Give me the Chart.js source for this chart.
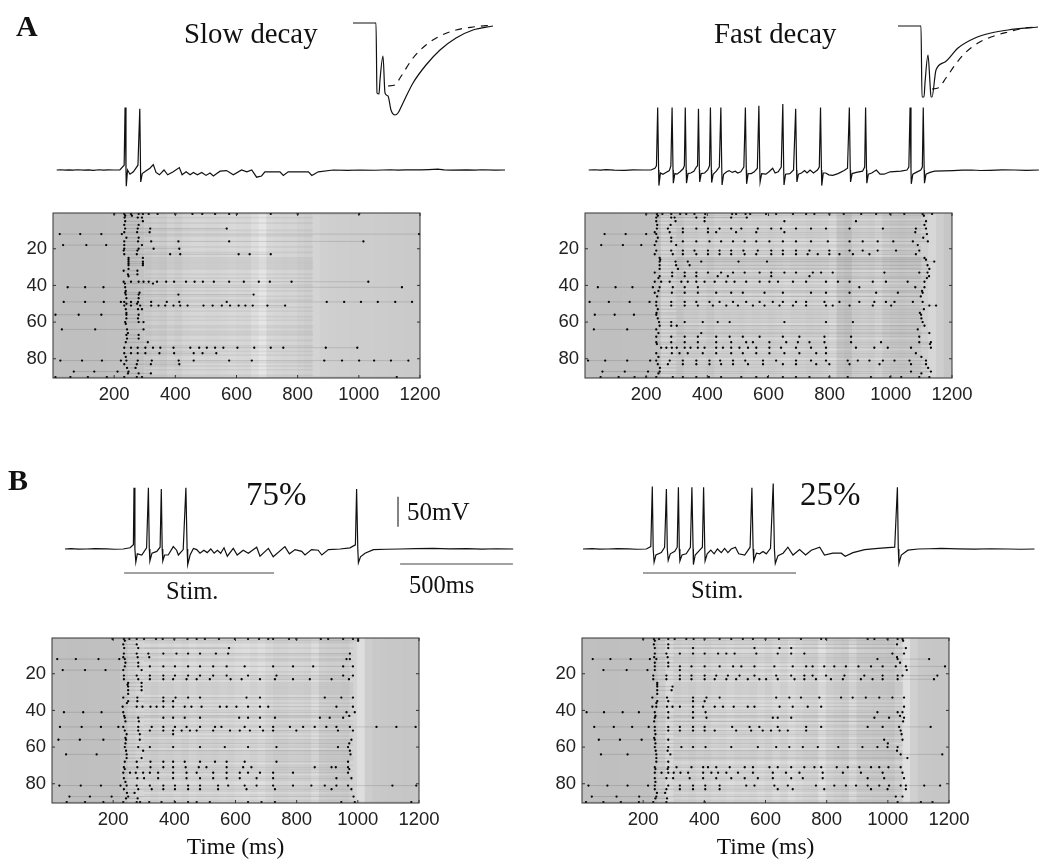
<!DOCTYPE html>
<html>
<head>
<meta charset="utf-8">
<title>Slow and fast decay rasters</title>
<script src="https://cdn.jsdelivr.net/npm/chart.js@4"></script>
<style>
  html, body { margin: 0; padding: 0; background: #fff; }
  #page { position: relative; width: 1050px; height: 867px; overflow: hidden; filter: blur(0.4px); }
  canvas { position: absolute; }
  .txt { position: absolute; font-family: "Liberation Serif", serif; color: #111; white-space: nowrap; line-height: 1; }
</style>
</head>
<body>
<div id="page"></div>
<script>
// Tick labels shared by all raster panels
const timeTicks = [200, 400, 600, 800, 1000, 1200];
const cellTicks = [20, 40, 60, 80];

// Raster spikes, each line is [cell, spike times in ms]
const spikesSlow = [
  [1,200,233,255,280,294,313,342,400,456,488,530,576,601,712,800,1001],[2,236,258],[3,234,277,291],[5,236,294],[7,233,280],
  [9,236,277,318,568],[11,233,275,316],[12,22,89,158,225,1197],[14,240,280],[16,233,278,321,410,576,1015],
  [18,33,109,174,233,291],[20,233,280,329,413],[21,231,276],[23,233,274,383,416,607,643,712],[25,247,294],[26,247],[27,247,294],
  [28,247,294],[29,247,294],[31,247],[32,231,276],[34,245,276],[35,247],
  [38,231,255,280,296,313,340,370,396,435,463,490,526,576,624,673,709,780,1031],[39,235,327],[41,48,105,165,236,1141],[43,238],
  [44,236,283],[45,238,280,410,656],[47,240,280],[49,35,105,166,222,233,255,278,321,372,413,568,895,952,1007,1062,1119,1174],
  [50,240,275],[51,233,255,285,321,345,367,394,416,440,492,522,552,579,607,629,653,701,759],[53,238,278,291],[55,240],
  [56,8,84,158,240,280],[58,240,278],[60,236,280,296],[61,238],[64,29,138,242,296],[66,245],[67,240,280],[69,242,280],[71,238,310],
  [74,233,255,277,302,327,351,394,449,478,503,530,557,603,658,712,753,892,995],[77,233,255,277,302,348,396,460,489,534],
  [79,238],[81,24,95,160,222,240,277,323,411,460,576,650,887,945,1001,1050,1105,1162],[83,233,274,320,413],[85,242,270],
  [87,68,135,211,247],[88,245,280,320],[90,8,57,114,176,233,274,291,1124]
];
const spikesFast = [
  [1,200,235,253,282,311,331,358,393,481,494,525,540,592,625,680,723,750,799,846,903,952,998,1044,1104,1135],[2,238,1108],
  [3,233,282,293,364,391,478,529],[5,233,296,391,652,886,1115],[7,236,280,1110],
  [9,235,271,320,364,402,440,478,511,565,609,641,690,739,788,865,974,1082,1115],[11,228,277,320,402,429,494,560,652,1080],
  [12,64,133,200,233,1118],[14,238,282,1106],[16,233,282,320,364,407,445,484,522,560,603,647,690,739,794,865,908,957,1008,1072,1121],
  [18,53,124,184,228,298,1088],[21,233,282,320,358,402,440,478,518,565,609,647,690,734,799,865,908,957,1017,1093],
  [23,228,287,320,364,402,440,478,522,560,609,647,690,728,761,799,832,876,930,1082],[25,244,1110],[26,246,1115],
  [27,244,296,336,380,502,595,1142],[29,244,298,342,1120],[31,244,304,1126],
  [33,228,285,326,364,402,445,484,522,571,609,652,690,745,772,810,979,1093,1120],[35,244,285,326,364,434,467,609,734,1125],
  [36,240,1118],[38,228,249,277,315,336,364,391,424,462,489,527,571,603,631,680,723,788,827,865,941,984,1055,1110],
  [41,42,100,155,222,244,287,326,369,897,1080,1110],[43,240,1102],
  [44,228,284,326,369,429,478,516,587,647,739,788,865,952,1023,1104],[46,236,1098],
  [49,15,78,146,211,233,282,326,364,407,440,484,527,571,614,647,690,723,783,832,897,946,984,1012,1072,1104],
  [51,233,282,326,369,418,462,500,549,587,636,680,723,788,810,865,941,1001,1126,1148],[53,238,1108],[55,234,1095],
  [56,32,97,160,233,1099],[58,238,1100],[60,242,282,326,385,434,473,652,788,876,1104],[62,244,282,300,1110],
  [64,29,138,233,1088],[66,240,380,1126],[68,233,282,326,369,429,473,516,571,647,701,783,870,1093],
  [71,233,282,326,369,429,478,527,549,603,658,696,734,783,870,968,1093,1131],[72,235,1128],
  [74,249,266,284,300,326,345,369,391,429,451,478,505,533,560,603,641,690,739,788,886,946,990,1066,1131],
  [77,233,284,309,336,385,429,478,516,560,603,652,701,756,788,1082],[79,240,1100],
  [81,10,66,138,213,233,277,320,364,407,442,484,524,582,625,690,739,788,859,892,930,974,1012,1061,1115],
  [83,238,271,320,364,407,445,484,533,582,647,690,756,799,865,963,1066,1115],[85,245,1122],[87,57,130,206,244,1066,1131],[88,240,1100],
  [90,51,110,162,200,233,287,320,364,405,445,511,560,598,647,690,734,799,859,935,998,1034,1093,1126]
];
const spikes75 = [
  [1,198,235,253,277,301,340,362,400,443,473,500,546,598,641,677,707,723,775,799,879,903,952,984,1001],[2,238,1001],[4,233,277],
  [6,236,282,579],[9,235,277,315,364,407,445,484,536,576,974],[11,233,280,318],[12,17,78,152,220,238,963,974],[14,240,282],
  [16,238,282,320,364,402,445,484,527,571,630,723,788,854,952,984],[18,35,108,175,233,293],
  [21,235,277,320,364,402,445,484,527,571,641,734,952,984],[23,235,282,320,364,396,440,473,516,584,620,680,729,788,843,914,971],
  [25,249,293],[26,247],[27,249,293],[29,249,293],[31,249],[33,233,279,364,404,445,484,636,680,892,946,984],[35,249,279,364,396],[36,245],
  [38,231,277,296,322,342,364,396,434,456,489,549,571,603,641,680,707,930,984],[41,39,102,162,233,963,990],[43,236,972],
  [44,238,282,364,396,434,484,612,641,680,729,876,908,952],[46,240,284],
  [49,26,97,160,217,233,282,326,364,402,440,484,533,554,630,680,723,778,821,859,897,930,974,1061,1126,1189],
  [51,238,282,320,364,396,424,451,473,527,582,614,647,690,723,799,935,984],[53,244,287,396],[55,240],[56,21,91,168,242,287,979],[58,240,972],
  [60,238,282,320,396,484,565,641,734,935,968],[62,242,298,974],[64,46,146,244,976],[66,244,293],
  [68,238,277,322,364,396,434,484,533,571,630,734,968],[71,235,279,322,364,396,437,480,505,571,625,652,859,914,928,968],
  [72,238,972],[74,233,255,274,298,320,347,396,440,473,527,571,614,641,680,723,788,968],
  [77,235,279,301,347,396,440,484,527,571,614,669,723,930,979],[79,240],
  [81,24,94,160,224,244,277,320,364,402,445,484,543,576,630,669,723,788,848,892,930,968,1113,1191],
  [83,235,282,326,364,402,445,484,543,636,729,914,979],[85,245,270],[87,57,124,195,249,986],[88,242,280],
  [90,48,108,168,233,277,288,318,358,402,445,473,516,641,685,729,946,990,1175]
];
const spikes25 = [
  [1,200,235,252,282,303,341,365,401,450,488,526,559,600,644,716,782,798,934,956,999,1032,1048],[2,238,1050],[4,235,282,1030],
  [6,238,282,363,564,646,684,1059],[9,238,276,320,363,401,445,472,499,570,640,684,727,1015,1053],[11,236,280,1030],
  [12,35,93,159,222,243,966,1032,1135],[14,238,282,1040],
  [16,238,282,320,358,401,450,494,521,564,629,689,733,754,792,825,863,904,945,983,1026,1059,1187],[18,70,146,214,238,320,1062],
  [21,233,276,320,358,401,439,477,515,564,635,684,727,754,798,858,923,983,1032,1048,1162],
  [23,233,276,320,358,401,434,472,504,542,580,602,640,695,727,765,814,853,912,950,983,1032,1151],
  [25,246],[26,246],[27,246,296],[29,246,293],[31,246],[33,230,278,363,407,450,635,678,716,776,847,885,928,972,1015,1053],
  [35,246,282,363,401],[36,243],[38,230,243,278,296,320,363,396,434,461,496,542,564,646,689,738,782,1053],
  [41,15,72,133,186,238,282,363,404,966,1032,1048],[43,240,1040],[44,238,282,363,407,624,640,684,956,1004,1053],[46,236,1050],
  [49,40,104,164,218,238,282,320,363,401,491,548,580,640,733,782,934,983,1037,1140],
  [51,238,282,320,363,401,434,504,553,591,618,646,673,733,1042],[53,240,1045],[55,236],[56,55,124,195,238,282,988,1048],[58,240,1000],
  [60,238,282,325,363,404,488,575,635,678,722,771,838,917,966,999,1032],[62,241,280,1030],[64,62,149,243,289,1042,1178],[66,243,1064],
  [68,243,282],[71,238,282,309,358,396,412,439,483,532,559,613,640,684,727,760,782,833,869,907,945,972,1002,1042],[72,240,280],
  [74,238,260,282,300,322,347,396,423,445,472,510,559,624,667,711,787,853,912,983,1048],
  [77,238,276,298,352,396,439,488,532,575,624,684,722,787,934,988,1053],[79,240],
  [81,21,83,149,216,238,282,320,363,403,450,537,564,629,673,765,825,863,896,934,972,1004,1042,1059,1119,1171],
  [83,238,276,320,363,403,450,640,689,792,945,999,1059],[85,245,272],[87,32,113,187,243,1026,1048],[88,240,278],
  [90,13,70,127,186,233,276,401,1032,1108,1146]
];

// Background brightness of the rasters, one value per 25 ms bin
const shadeSlow = [192,191,191,191,191,191,191,192,192,192,193,195,203,207,204,211,207,213,215,215,213,213,215,217,215,214,222,230,216,214,212,213,209,206,212,208,207,206,206,205,205,205,204,204,203,203,202,202];
const shadeFast = [192,192,191,191,191,192,192,192,192,193,212,210,205,212,211,215,209,216,214,215,213,216,214,216,213,216,219,215,216,213,214,216,222,203,198,212,214,212,218,208,204,202,204,204,208,215,206,198];
const shade75 = [192,192,191,191,191,192,192,192,192,197,207,213,216,212,216,214,218,214,220,216,217,215,218,216,220,222,218,223,216,211,212,215,214,212,221,208,206,206,204,212,222,205,201,200,199,199,198,198];
const shade25 = [192,192,191,191,191,192,192,192,192,195,204,217,212,215,211,216,213,218,216,220,216,217,215,220,215,222,216,224,218,214,213,226,214,210,207,219,207,206,204,204,202,210,224,208,200,199,198,198];

// Rows that stay darker through the active period, and when that period ends in ms
const stripeRows = [3,6,10,13,19,22,25,26,27,28,29,30,31,34,36,40,43,46,48,52,54,57,59,62,63,65,66,67,70,73,76,78,82,84,86,89];
const activeEnd = { slow: 850, fast: 1100, p75: 985, p25: 1050 };

// Membrane potential traces, [time in ms, mV]
const traceSlow = [[12,-65],[25,-64.6],[40,-65.3],[52,-64.7],[66,-65.2],[80,-64.6],[100,-65.1],[115,-64.7],[132,-65.5],[150,-64.6],[165,-65.1],[180,-64.7],[197,-65],[218,-65],[232,-57],[235,39],[238,-65],[239,-92],[243,-65],[251,-72],[262,-68],[277,-57],[283,37],[286,-85],[291,-71],[305,-66],[316,-62],[327,-56],[336,-69],[347,-73],[362,-65],[374,-73],[392,-68],[412,-61],[421,-73],[434,-68],[447,-73],[458,-69],[471,-73],[485,-69],[499,-74],[512,-70],[523,-75],[534,-71],[545,-67],[566,-66],[588,-73],[615,-65],[632,-68],[648,-65],[664,-77],[680,-75],[691,-68],[740,-68],[751,-74],[767,-68],[833,-68],[844,-74],[865,-68],[914,-65],[960,-65.6],[1000,-65],[1050,-65.4],[1100,-64.6],[1125,-65.2],[1150,-64.7],[1200,-64.8],[1225,-64.3],[1255,-63.6],[1275,-64.8],[1300,-65.2],[1350,-64.7],[1375,-65.3],[1400,-64.6],[1440,-65.3],[1474,-65]];
const traceFast = [[12,-65],[30,-64.6],[50,-65.2],[70,-64.5],[95,-65.2],[130,-65.5],[155,-64.7],[190,-65],[215,-65],[228,-62],[233,-58],[237,39],[240,-65],[241,-91],[246,-70],[254,-72],[264,-69],[275,-66],[280,-58],[284,39],[287,-65],[288,-87],[293,-71],[300,-72],[310,-68],[320,-63],[324,-58],[327,39],[330,-65],[331,-87],[336,-71],[345,-70],[355,-67],[363,-60],[367,-58],[370,37],[373,-65],[374,-85],[379,-71],[390,-70],[400,-65],[406,-58],[409,39],[412,-65],[413,-86],[418,-72],[428,-67],[438,-60],[443,39],[446,-65],[447,-90],[452,-72],[462,-68],[470,-66],[480,-69],[490,-67],[498,-70],[508,-68],[518,-60],[523,39],[526,-65],[527,-88],[532,-71],[542,-71],[552,-68],[562,-62],[567,42],[570,-65],[571,-85],[576,-71],[590,-72],[600,-68],[612,-62],[620,-70],[630,-68],[640,-60],[645,45],[648,-65],[649,-90],[654,-72],[668,-71],[680,-65],[687,37],[690,-65],[691,-85],[696,-72],[706,-70],[716,-66],[724,-70],[734,-65],[745,-70],[758,-65],[764,-60],[768,39],[771,-65],[772,-91],[777,-70],[785,-70],[795,-73],[808,-74],[825,-71],[845,-66],[856,-62],[862,39],[865,-65],[866,-85],[871,-71],[885,-69],[905,-67],[912,-60],[915,39],[918,-65],[919,-87],[924,-72],[935,-70],[950,-65],[962,-72],[975,-72],[995,-68],[1030,-67],[1050,-65],[1056,-60],[1060,39],[1063,-65],[1064,-88],[1069,-72],[1080,-69],[1095,-65],[1100,-60],[1103,39],[1106,-65],[1107,-87],[1112,-72],[1125,-69],[1140,-67],[1170,-66.4],[1200,-66],[1230,-65.3],[1260,-65],[1290,-65.8],[1320,-65.5],[1360,-64.7],[1400,-65],[1440,-65.5],[1480,-65]];
const trace75 = [[0,-65],[20,-64.5],[45,-65.3],[72,-65],[100,-64.4],[139,-64.8],[165,-65.4],[194,-65],[217,-63],[228,-58],[230,37],[233,-65],[236,-87],[241,-73],[256,-75],[272,-63],[278,37],[281,-65],[283,-85],[290,-72],[306,-69],[317,-62],[321,35],[324,-65],[326,-85],[332,-75],[344,-75],[361,-61],[372,-67],[378,-75],[394,-66],[403,37],[407,-65],[409,-91],[417,-75],[428,-64],[439,-66],[450,-72],[463,-67],[474,-71],[486,-65],[497,-72],[508,-67],[519,-72],[530,-63],[541,-77],[561,-64],[574,-75],[594,-67],[611,-72],[639,-62],[650,-77],[678,-64],[694,-78],[733,-61],[748,-73],[767,-66],[789,-69],[800,-75],[822,-66],[844,-67],[856,-75],[878,-66],[917,-65],[950,-63],[968,-58],[972,35],[976,-65],[978,-88],[985,-78],[1000,-72],[1028,-66],[1070,-65.4],[1117,-65],[1170,-64.5],[1228,-64],[1280,-64.8],[1339,-64.5],[1390,-65.2],[1440,-64.6],[1494,-65]];
const trace25 = [[0,-65],[30,-64.5],[55,-65.3],[83,-65],[115,-64.5],[150,-64.8],[180,-65.4],[211,-65],[226,-61],[231,39],[234,-65],[237,-87],[243,-75],[261,-71],[272,-62],[278,35],[281,-65],[284,-84],[291,-73],[306,-69],[314,-62],[318,38],[321,-65],[323,-85],[330,-75],[344,-73],[358,-62],[363,38],[367,-65],[368,-91],[374,-75],[389,-67],[398,-62],[402,38],[406,-65],[407,-85],[414,-73],[426,-67],[437,-73],[448,-65],[461,-71],[472,-64],[483,-71],[494,-65],[508,-62],[519,-73],[539,-75],[557,-62],[563,37],[567,-65],[569,-85],[578,-72],[589,-73],[600,-69],[611,-73],[625,-64],[634,44],[638,-65],[641,-89],[650,-76],[667,-72],[683,-62],[700,-75],[722,-66],[742,-75],[761,-67],[789,-62],[805,-75],[833,-72],[861,-72],[874,-77],[900,-71],[939,-66],[983,-64],[1039,-62],[1048,38],[1051,-65],[1053,-89],[1061,-75],[1083,-67],[1117,-65],[1155,-64.6],[1194,-64],[1250,-64.8],[1305,-65.2],[1360,-64.6],[1417,-65],[1460,-65.4],[1505,-65]];

// Stimulus and scale bars, drawn on the trace axes
const stim75 = [[197,-105],[697,-105]];
const stim25 = [[200,-105],[710,-105]];
const barVolt = [[1110,22],[1110,-28]];
const barTime = [[1117,-90],[1493,-90]];

// Inset current shapes, [ms, pA]
const insetSlowSolid = [[0,0],[23,0],[24,-70],[26,-71],[27,-57],[30,-33],[32,-70],[35,-73],[38,-87],[42,-92],[45,-90],[50,-80],[60,-60],[73,-42],[87,-27],[103,-15],[120,-7],[140,-3]];
const insetSlowDash = [[35,-63],[42,-62],[47,-55],[60,-35],[73,-22],[87,-13],[103,-7],[120,-4],[140,-2]];
const insetFastSolid = [[0,0],[23,0],[24,-71],[26,-71],[27,-57],[30,-29],[32,-57],[33,-71],[34,-71],[38,-44],[47,-36],[60,-22],[77,-12],[93,-7],[110,-4],[140,-1]];
const insetFastDash = [[34,-63],[40,-62],[48,-52],[57,-39],[67,-27],[80,-17],[93,-11],[110,-6],[127,-2],[140,-1]];

const page = document.getElementById("page");

function addCanvas(left, top, width, height) {
    const c = document.createElement("canvas");
    c.width = width;
    c.height = height;
    c.style.left = left + "px";
    c.style.top = top + "px";
    c.style.width = width + "px";
    c.style.height = height + "px";
    page.appendChild(c);
    return c;
}

function addText(text, left, top, size, bold) {
    const d = document.createElement("div");
    d.className = "txt";
    d.textContent = text;
    d.style.left = left + "px";
    d.style.top = top + "px";
    d.style.fontSize = size + "px";
    if (bold) d.style.fontWeight = "bold";
    page.appendChild(d);
}

const toXY = pairs => pairs.map(p => ({ x: p[0], y: p[1] }));

// Dark frame and small inward ticks round a raster
const framePlugin = {
    id: "frame",
    afterDraw(chart) {
        const { ctx, chartArea: a, scales } = chart;
        ctx.save();
        ctx.strokeStyle = "#333";
        ctx.lineWidth = 1;
        ctx.strokeRect(a.left, a.top, a.right - a.left, a.bottom - a.top);
        ctx.beginPath();
        timeTicks.forEach(t => {
            const x = scales.x.getPixelForValue(t);
            ctx.moveTo(x, a.top); ctx.lineTo(x, a.top + 3);
            ctx.moveTo(x, a.bottom); ctx.lineTo(x, a.bottom - 3);
        });
        cellTicks.forEach(v => {
            const y = scales.y.getPixelForValue(v);
            ctx.moveTo(a.left, y); ctx.lineTo(a.left + 3, y);
            ctx.moveTo(a.right, y); ctx.lineTo(a.right - 3, y);
        });
        ctx.stroke();
        ctx.restore();
    }
};

// One raster panel: gray bins, row streaks, spike dots
function drawRaster(plotLeft, plotTop, spikes, shades, endOfActivity, withTitle) {
    const axisW = 50, plotW = 367, plotH = 165, axisH = withTitle ? 59 : 28;
    const canvas = addCanvas(plotLeft - axisW, plotTop - 3, axisW + plotW + 32, 3 + plotH + axisH);
    const dots = spikes.flatMap(([row, ...times]) => times.map(t => ({ x: t, y: row })));
    const streaks = spikes.flatMap(([row, ...times]) => [
        { x: times[0], y: row }, { x: times[times.length - 1], y: row }, { x: NaN, y: NaN }
    ]);
    const stripes = stripeRows.flatMap(row => [
        { x: 300, y: row }, { x: endOfActivity, y: row }, { x: NaN, y: NaN }
    ]);
    const bins = shades.map((s, i) => ({ x: 12.5 + i * 25, y: [0.5, 90.5] }));
    new Chart(canvas, {
        type: "scatter",
        data: {
            datasets: [
                { data: dots, pointRadius: 1.15, pointBackgroundColor: "#000", pointBorderWidth: 0, order: 1 },
                { data: streaks, showLine: true, pointRadius: 0, borderColor: "rgba(85,85,85,0.2)", borderWidth: 1, order: 2 },
                { data: stripes, showLine: true, pointRadius: 0, borderColor: "rgba(120,120,120,0.12)", borderWidth: 1.6, order: 3 },
                {
                    type: "bar", data: bins, order: 4, barThickness: 8.5, grouped: false, borderWidth: 0,
                    backgroundColor: shades.map(s => `rgb(${s},${s},${s})`)
                }
            ]
        },
        options: {
            responsive: false,
            animation: false,
            layout: { autoPadding: false, padding: { top: 3, right: 32, left: 0, bottom: 0 } },
            plugins: { legend: { display: false }, tooltip: { enabled: false } },
            scales: {
                x: {
                    type: "linear", min: 0, max: 1200, offset: false,
                    grid: { display: false, drawTicks: false }, border: { display: false },
                    afterBuildTicks: s => { s.ticks = timeTicks.map(v => ({ value: v })); },
                    afterFit: s => { s.height = axisH; s.paddingLeft = 0; s.paddingRight = 0; },
                    ticks: { callback: v => String(v), font: { family: "Liberation Sans", size: 18.5 }, color: "#222", padding: 6, maxRotation: 0, autoSkip: false },
                    title: { display: withTitle, text: "Time (ms)", color: "#111", padding: 0, font: { family: "Liberation Serif", size: 23.5 } }
                },
                y: {
                    type: "linear", min: 0.5, max: 90.5, reverse: true,
                    grid: { display: false, drawTicks: false }, border: { display: false },
                    afterBuildTicks: s => { s.ticks = cellTicks.map(v => ({ value: v })); },
                    afterFit: s => { s.width = axisW; s.paddingTop = 0; s.paddingBottom = 0; },
                    ticks: { callback: v => String(v), font: { family: "Liberation Sans", size: 18.5 }, color: "#222", padding: 6, autoSkip: false }
                }
            }
        },
        plugins: [framePlugin]
    });
}

// A plain line panel with hidden axes, used for traces and insets
function drawLines(left, top, width, height, xMax, yMin, yMax, lines) {
    const pad = 3;
    const canvas = addCanvas(left - pad, top - pad, width + 2 * pad, height + 2 * pad);
    new Chart(canvas, {
        type: "scatter",
        data: {
            datasets: lines.map(l => ({
                data: toXY(l.points), showLine: true, pointRadius: 0, clip: false,
                borderColor: l.color || "#111", borderWidth: l.width || 1.2, borderDash: l.dash || [],
                cubicInterpolationMode: l.smooth ? "monotone" : "default"
            }))
        },
        options: {
            responsive: false,
            animation: false,
            layout: { autoPadding: false, padding: pad },
            plugins: { legend: { display: false }, tooltip: { enabled: false } },
            scales: {
                x: { type: "linear", min: 0, max: xMax, display: false },
                y: { type: "linear", min: yMin, max: yMax, display: false }
            }
        }
    });
}

// Rasters
drawRaster(53, 213, spikesSlow, shadeSlow, activeEnd.slow, false);
drawRaster(585, 213, spikesFast, shadeFast, activeEnd.fast, false);
drawRaster(52, 638, spikes75, shade75, activeEnd.p75, true);
drawRaster(582, 638, spikes25, shade25, activeEnd.p25, true);

// Traces
drawLines(53, 101, 460, 90, 1500, -100, 50, [{ points: traceSlow }]);
drawLines(585, 101, 460, 90, 1500, -100, 50, [{ points: traceFast }]);
drawLines(65, 480, 453, 99, 1510, -115, 50, [
    { points: trace75 },
    { points: stim75, color: "#444" },
    { points: barVolt, color: "#333" },
    { points: barTime, color: "#444" }
]);
drawLines(583, 480, 453, 99, 1510, -115, 50, [
    { points: trace25 },
    { points: stim25, color: "#444" }
]);

// Insets
drawLines(353, 23, 140, 95, 140, -95, 0, [
    { points: insetSlowSolid, smooth: true },
    { points: insetSlowDash, dash: [7, 6], smooth: true }
]);
drawLines(898, 26, 140, 95, 140, -95, 0, [
    { points: insetFastSolid, smooth: true },
    { points: insetFastDash, dash: [7, 6], smooth: true }
]);

// Labels
addText("A", 16, 11, 30, true);
addText("B", 8, 465, 30, true);
addText("Slow decay", 184, 19, 28.8);
addText("Fast decay", 714, 19, 28.8);
addText("75%", 246, 478, 33);
addText("25%", 800, 478, 33);
addText("50mV", 407, 499, 25);
addText("500ms", 409, 573, 24.5);
addText("Stim.", 166, 579, 24.5);
addText("Stim.", 691, 578, 24.5);
</script>
</body>
</html>
